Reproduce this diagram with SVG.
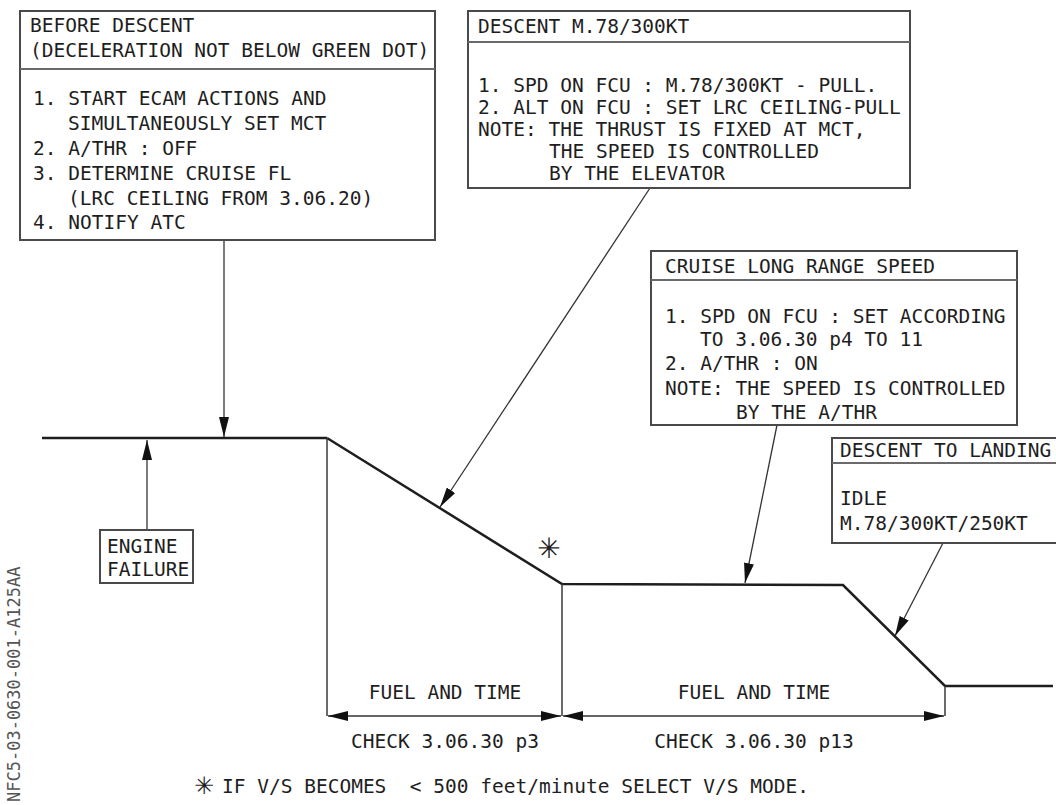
<svg xmlns="http://www.w3.org/2000/svg" width="1056" height="805" viewBox="0 0 1056 805">
<style>
text{font-family:"DejaVu Sans Mono","Liberation Mono",monospace;font-size:19.5px;fill:#1e1e1e}
.box{fill:#fff;stroke:#4a4a4a;stroke-width:2}
.div{stroke:#6a6a6a;stroke-width:2}
.prof{fill:none;stroke:#1e1e1e;stroke-width:2.5}
.thin{fill:none;stroke:#3a3a3a;stroke-width:1.5}
.lead{fill:none;stroke:#333;stroke-width:1.3}
.mid{text-anchor:middle}
.side{font-size:17px;fill:#555}
.sym{font-family:"DejaVu Sans",sans-serif}
</style>
<defs>
<marker id="ah" viewBox="0 0 20 10" refX="20" refY="5" markerWidth="20" markerHeight="10" markerUnits="userSpaceOnUse" orient="auto-start-reverse">
<path d="M0,0 L20,5 L0,10 Z" fill="#111"/>
</marker>
</defs>
<rect width="1056" height="805" fill="#fff"/>

<g id="profile">
<path class="prof" d="M42,438 L327,438" stroke-width="3.5"/>
<path class="prof" d="M327,438 L562,584 L843,585 L945,686 L1053,686"/>
<path class="thin" d="M327,438 L327,716 M562,584 L562,716 M945,686 L945,716"/>
</g>

<g id="connectors">
<path class="lead" d="M224,240 L224,437" marker-end="url(#ah)"/>
<path class="lead" d="M147,530 L147,440" marker-end="url(#ah)"/>
<path class="lead" d="M650,188 L440,507" marker-end="url(#ah)"/>
<path class="lead" d="M777,425 L745,583" marker-end="url(#ah)"/>
<path class="lead" d="M943,543 L895,636" marker-end="url(#ah)"/>
<path class="lead" d="M328,716 L561,716" marker-start="url(#ah)" marker-end="url(#ah)"/>
<path class="lead" d="M563,716 L944,716" marker-start="url(#ah)" marker-end="url(#ah)"/>
</g>

<g id="before-descent">
<rect class="box" x="20" y="11" width="415" height="229"/>
<line class="div" x1="20" y1="69" x2="435" y2="69"/>
<text x="30" y="32">BEFORE DESCENT</text>
<text x="30" y="57">(DECELERATION NOT BELOW GREEN DOT)</text>
<text x="33" y="105">1. START ECAM ACTIONS AND</text>
<text x="68" y="130">SIMULTANEOUSLY SET MCT</text>
<text x="33" y="155">2. A/THR : OFF</text>
<text x="33" y="180">3. DETERMINE CRUISE FL</text>
<text x="68" y="205">(LRC CEILING FROM 3.06.20)</text>
<text x="33" y="229">4. NOTIFY ATC</text>
</g>

<g id="descent-m78">
<rect class="box" x="468" y="11" width="442" height="177"/>
<line class="div" x1="468" y1="42" x2="910" y2="42"/>
<text x="478" y="33">DESCENT M.78/300KT</text>
<text x="478" y="92">1. SPD ON FCU : M.78/300KT - PULL.</text>
<text x="478" y="114">2. ALT ON FCU : SET LRC CEILING-PULL</text>
<text x="478" y="136">NOTE: THE THRUST IS FIXED AT MCT,</text>
<text x="549" y="158">THE SPEED IS CONTROLLED</text>
<text x="549" y="180">BY THE ELEVATOR</text>
</g>

<g id="cruise-lrs">
<rect class="box" x="651" y="251" width="366" height="174"/>
<line class="div" x1="651" y1="280" x2="1017" y2="280"/>
<text x="665" y="273">CRUISE LONG RANGE SPEED</text>
<text x="665" y="323">1. SPD ON FCU : SET ACCORDING</text>
<text x="700" y="346">TO 3.06.30 p4 TO 11</text>
<text x="665" y="370">2. A/THR : ON</text>
<text x="665" y="395">NOTE: THE SPEED IS CONTROLLED</text>
<text x="736" y="419">BY THE A/THR</text>
</g>

<g id="descent-landing">
<rect class="box" x="832" y="438" width="230" height="105"/>
<line class="div" x1="832" y1="463" x2="1062" y2="463"/>
<text x="840" y="457">DESCENT TO LANDING</text>
<text x="840" y="505">IDLE</text>
<text x="840" y="530">M.78/300KT/250KT</text>
</g>

<g id="engine-failure">
<rect class="box" x="100" y="530" width="93" height="53" stroke-width="1.5"/>
<text x="107" y="553">ENGINE</text>
<text x="107" y="576">FAILURE</text>
</g>

<g id="labels">
<text x="549" y="558" class="mid sym" style="font-size:28px">✳</text>
<text x="445" y="699" class="mid">FUEL AND TIME</text>
<text x="445" y="748" class="mid">CHECK 3.06.30 p3</text>
<text x="754" y="699" class="mid">FUEL AND TIME</text>
<text x="754" y="748" class="mid">CHECK 3.06.30 p13</text>
<text x="204" y="794" class="mid sym" style="font-size:24px">✳</text>
<text x="222" y="793" xml:space="preserve">IF V/S BECOMES  &lt; 500 feet/minute SELECT V/S MODE.</text>
<text class="side" transform="translate(20,802) rotate(-90)">NFC5-03-0630-001-A125AA</text>
</g>
</svg>
